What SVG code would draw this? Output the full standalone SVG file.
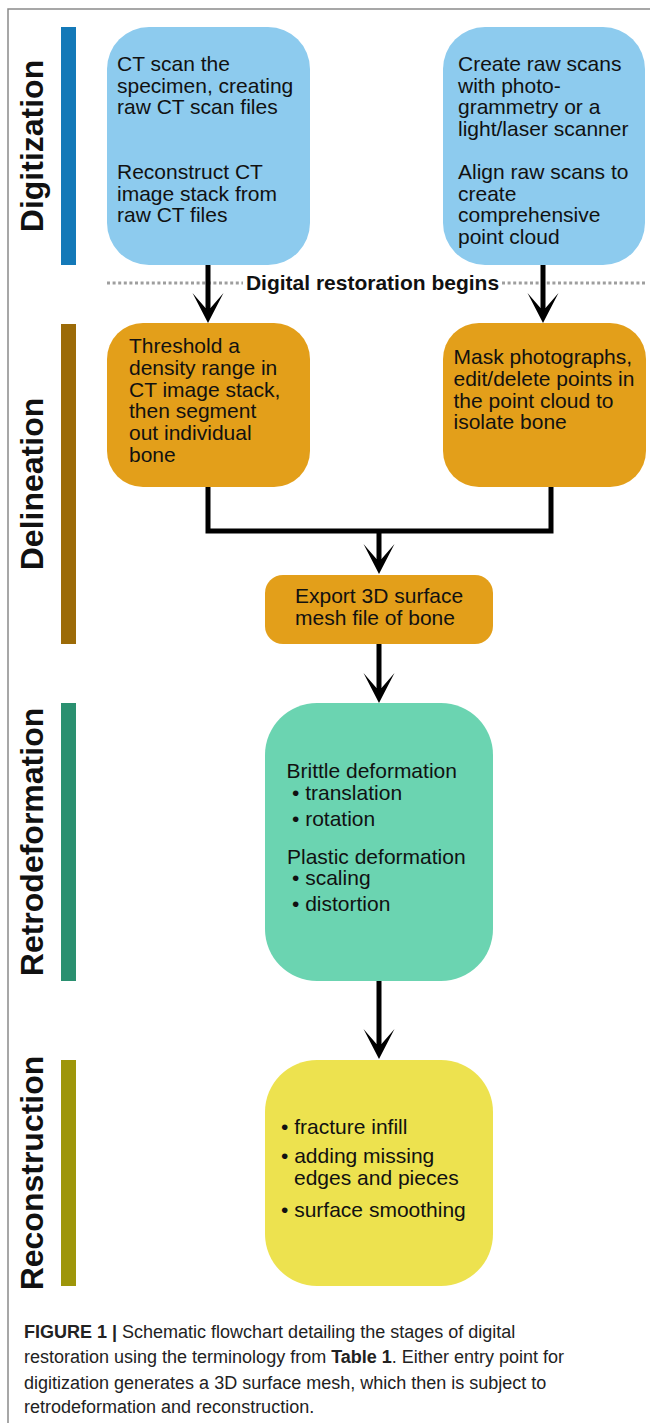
<svg xmlns="http://www.w3.org/2000/svg" width="650" height="1423" viewBox="0 0 650 1423">
<style>
.lbl{font-family:"Liberation Sans",Arial,sans-serif;font-weight:bold;font-size:32px;fill:#111;}
.bt{font-family:"Liberation Sans",Arial,sans-serif;font-size:21px;fill:#111;}
.cap{font-family:"Liberation Sans",Arial,sans-serif;font-size:18px;fill:#222;}
.con{stroke:#000;stroke-width:5;fill:none;}
.b{font-weight:bold;}
</style>
<defs>
<marker id="ah" viewBox="-31 -17 33 34" refX="-12" refY="0" markerWidth="33" markerHeight="34" markerUnits="userSpaceOnUse" orient="auto">
<path d="M0,0 L-30,-15.5 L-15,-2.5 L-15,2.5 L-30,15.5 Z" fill="#000"/>
</marker>
</defs>
<rect x="0" y="0" width="650" height="1423" fill="#fff"/>
<path d="M8,1423 V9 H650" stroke="#8a8a8a" stroke-width="1.5" fill="none"/>

<g id="stage-digitization">
<rect x="61" y="27" width="15" height="238" fill="#1479b8"/>
<text class="lbl" transform="translate(43,146) rotate(-90)" text-anchor="middle">Digitization</text>
</g>
<g id="stage-delineation">
<rect x="61" y="324" width="15" height="320" fill="#9c6b08"/>
<text class="lbl" transform="translate(43,484) rotate(-90)" text-anchor="middle">Delineation</text>
</g>
<g id="stage-retrodeformation">
<rect x="61" y="703" width="15" height="278" fill="#2a9070"/>
<text class="lbl" transform="translate(43,842) rotate(-90)" text-anchor="middle">Retrodeformation</text>
</g>
<g id="stage-reconstruction">
<rect x="61" y="1060" width="15" height="226" fill="#9e960a"/>
<text class="lbl" transform="translate(43,1173) rotate(-90)" text-anchor="middle">Reconstruction</text>
</g>

<g id="ct-scan">
<rect x="107" y="27" width="203" height="238" rx="42" fill="#8dcbee"/>
<text class="bt" x="117" y="71">CT scan the</text>
<text class="bt" x="117" y="92.5">specimen, creating</text>
<text class="bt" x="117" y="114">raw CT scan files</text>
<text class="bt" x="117" y="179">Reconstruct CT</text>
<text class="bt" x="117" y="200.5">image stack from</text>
<text class="bt" x="117" y="222">raw CT files</text>
</g>
<g id="raw-scans">
<rect x="443" y="27" width="202" height="238" rx="42" fill="#8dcbee"/>
<text class="bt" x="458" y="71">Create raw scans</text>
<text class="bt" x="458" y="92.5">with photo-</text>
<text class="bt" x="458" y="114">grammetry or a</text>
<text class="bt" x="458" y="135.5">light/laser scanner</text>
<text class="bt" x="458" y="179">Align raw scans to</text>
<text class="bt" x="458" y="200.5">create</text>
<text class="bt" x="458" y="222">comprehensive</text>
<text class="bt" x="458" y="243.5">point cloud</text>
</g>

<g id="restoration-line">
<path d="M107,283 H243 M502,283 H647" stroke="#9e9e9e" stroke-width="3" stroke-dasharray="3 2.6" fill="none"/>
<text x="372.5" y="290" text-anchor="middle" font-family="'Liberation Sans',Arial,sans-serif" font-weight="bold" font-size="21" fill="#111">Digital restoration begins</text>
</g>

<g id="threshold">
<rect x="107" y="323" width="203" height="164" rx="36" fill="#e39f1a"/>
<text class="bt" x="129" y="353">Threshold a</text>
<text class="bt" x="129" y="375">density range in</text>
<text class="bt" x="129" y="396.5">CT image stack,</text>
<text class="bt" x="129" y="418">then segment</text>
<text class="bt" x="129" y="440">out individual</text>
<text class="bt" x="129" y="461.5">bone</text>
</g>
<g id="mask">
<rect x="443" y="323" width="203" height="164" rx="36" fill="#e39f1a"/>
<text class="bt" x="453.5" y="364">Mask photographs,</text>
<text class="bt" x="453.5" y="386">edit/delete points in</text>
<text class="bt" x="453.5" y="407.5">the point cloud to</text>
<text class="bt" x="453.5" y="429">isolate bone</text>
</g>
<g id="export">
<rect x="265" y="575" width="228" height="69" rx="18" fill="#e39f1a"/>
<text class="bt" x="295" y="603">Export 3D surface</text>
<text class="bt" x="295" y="625">mesh file of bone</text>
</g>
<g id="retrodeformation">
<rect x="265" y="703" width="228" height="278" rx="52" fill="#6bd4b1"/>
<text class="bt" x="286.5" y="778">Brittle deformation</text>
<text class="bt" x="292" y="800">• translation</text>
<text class="bt" x="292" y="825.5">• rotation</text>
<text class="bt" x="287" y="864">Plastic deformation</text>
<text class="bt" x="292" y="885">• scaling</text>
<text class="bt" x="292" y="910.5">• distortion</text>
</g>
<g id="reconstruction">
<rect x="265" y="1060" width="228" height="226" rx="52" fill="#ede24f"/>
<text class="bt" x="281" y="1134">• fracture infill</text>
<text class="bt" x="281" y="1163">• adding missing</text>
<text class="bt" x="294" y="1184.5">edges and pieces</text>
<text class="bt" x="281" y="1216.5">• surface smoothing</text>
</g>

<g id="connectors">
<path class="con" d="M208,265 V311" marker-end="url(#ah)"/>
<path class="con" d="M543,265 V311" marker-end="url(#ah)"/>
<path class="con" d="M208,487 V531 H551 V487"/>
<path class="con" d="M379,531 V562" marker-end="url(#ah)"/>
<path class="con" d="M379,644 V691" marker-end="url(#ah)"/>
<path class="con" d="M379,981 V1047" marker-end="url(#ah)"/>
</g>

<g id="caption">
<text class="cap" x="24" y="1338"><tspan class="b">FIGURE 1 |</tspan> Schematic flowchart detailing the stages of digital</text>
<text class="cap" x="24" y="1363">restoration using the terminology from <tspan class="b">Table 1</tspan>. Either entry point for</text>
<text class="cap" x="24" y="1388.5">digitization generates a 3D surface mesh, which then is subject to</text>
<text class="cap" x="24" y="1413">retrodeformation and reconstruction.</text>
</g>
</svg>
